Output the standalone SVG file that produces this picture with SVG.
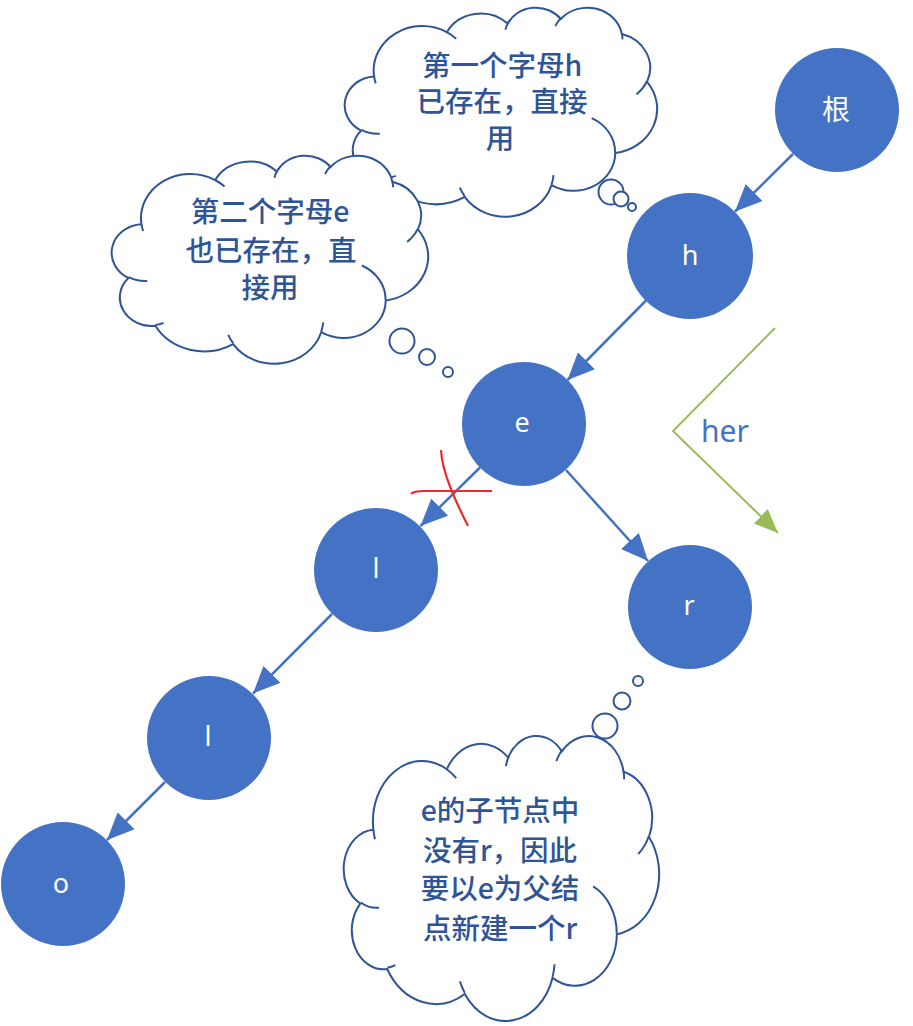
<svg xmlns="http://www.w3.org/2000/svg" width="913" height="1026" viewBox="0 0 913 1026">
<style>
.node{fill:#4472C4}
.lbl{fill:#FFFFFF;font-family:"Noto Sans","DejaVu Sans",sans-serif;font-size:27px;text-anchor:middle}
.lblcjk{fill:#FFFFFF;font-family:"Noto Sans CJK SC","Noto Sans",sans-serif;font-size:28px;text-anchor:middle}
.cloud{fill:#FFFFFF;stroke:#2F5597;stroke-width:2}
.crease{fill:none;stroke:#2F5597;stroke-width:2}
.bub{fill:#FFFFFF;stroke:#2F5597;stroke-width:2}
.ct{fill:#2F5597;font-family:"Noto Sans CJK SC","Noto Sans",sans-serif;font-size:28.5px;font-weight:500;text-anchor:middle}
.edge{stroke:#4472C4;stroke-width:2.5;fill:none;marker-end:url(#ah)}
</style>
<defs>
<marker id="ah" viewBox="0 0 27 24" refX="27" refY="12" markerWidth="27" markerHeight="24" markerUnits="userSpaceOnUse" orient="auto">
<path d="M0,0 L27,12 L0,24 z" fill="#4472C4"/>
</marker>
<marker id="ahg" viewBox="0 0 24 20" refX="24" refY="10" markerWidth="24" markerHeight="20" markerUnits="userSpaceOnUse" orient="auto">
<path d="M0,0 L24,10 L0,20 z" fill="#9BBB59"/>
</marker>
<g id="cloudshape">
<path class="cloud" vector-effect="non-scaling-stroke" d="M9.03,33.26 A15.63,21.27 0 0 1 32.42,12.04 A12.35,16.82 0 0 1 51.98,7.94 A10.10,13.76 0 0 1 69.06,5.74 A11.24,15.27 0 0 1 88.70,12.90 A12.35,16.84 0 0 1 96.80,35.78 A15.68,21.34 0 0 1 86.58,69.91 A13.39,18.21 0 0 1 66.10,85.21 A15.63,21.33 0 0 1 38.15,90.88 A17.87,24.41 0 0 1 13.43,82.10 A10.09,13.70 0 0 1 4.89,59.13 A10.06,13.76 0 0 1 9.03,33.26 Z"/>
<path class="crease" vector-effect="non-scaling-stroke" d="M10.86,60.59 A10.06,13.76 0 0 1 5.00,58.75 M16.04,80.78 A10.09,13.70 0 0 1 13.47,81.67 M38.14,90.49 A15.63,21.33 0 0 1 36.60,86.46 M66.73,80.44 A15.63,21.33 0 0 1 66.11,84.86 M79.00,53.13 A13.39,18.21 0 0 1 86.53,69.65 M96.75,35.54 A12.35,16.84 0 0 1 93.39,41.75 M88.71,12.56 A11.24,15.27 0 0 1 88.89,15.49 M67.31,9.15 A11.24,15.27 0 0 1 69.03,5.42 M51.25,10.93 A10.10,13.76 0 0 1 52.08,7.71 M32.41,12.02 A15.63,21.27 0 0 1 35.42,15.14 M9.55,36.55 A15.63,21.27 0 0 1 9.03,33.27"/>
</g>
</defs>

<g id="cloud1">
<use href="#cloudshape" transform="translate(346,7) scale(3.11,2.09)"/>
<circle class="bub" cx="611" cy="192" r="12.5"/>
<circle class="bub" cx="621" cy="199" r="7.5"/>
<circle class="bub" cx="632" cy="207" r="4"/>
<text class="ct" x="502" y="76">第一个字母h</text>
<text class="ct" x="502" y="112">已存在，直接</text>
<text class="ct" x="500" y="149">用</text>
</g>

<g id="cloud2">
<use href="#cloudshape" transform="translate(113,155) scale(3.15,2.08)"/>
<circle class="bub" cx="402" cy="341" r="12.5"/>
<circle class="bub" cx="427" cy="357" r="8"/>
<circle class="bub" cx="448" cy="372" r="5"/>
<text class="ct" x="270" y="222">第二个字母e</text>
<text class="ct" x="271" y="261">也已存在，直</text>
<text class="ct" x="270" y="298">接用</text>
</g>

<g id="cloud3">
<use href="#cloudshape" transform="translate(345,735) scale(3.14,2.85)"/>
<circle class="bub" cx="605" cy="726" r="12.5"/>
<circle class="bub" cx="622" cy="701" r="8.5"/>
<circle class="bub" cx="638" cy="681" r="5"/>
<text class="ct" x="500" y="821">e的子节点中</text>
<text class="ct" x="500" y="861">没有r，因此</text>
<text class="ct" x="500" y="899">要以e为父结</text>
<text class="ct" x="500" y="939">点新建一个r</text>
</g>

<g id="connectors">
<line class="edge" x1="793" y1="154" x2="735" y2="211.5"/>
<line class="edge" x1="646" y1="300.5" x2="567.5" y2="380"/>
<line class="edge" x1="480" y1="467.5" x2="420.5" y2="526"/>
<line class="edge" x1="566" y1="470" x2="648" y2="561"/>
<line class="edge" x1="332" y1="614" x2="253" y2="693.5"/>
<line class="edge" x1="165" y1="782" x2="107" y2="840"/>
</g>

<g id="node-root"><circle class="node" cx="837" cy="110" r="62"/><text class="lblcjk" x="836" y="120">根</text></g>
<g id="node-h"><circle class="node" cx="690" cy="256" r="63"/><text class="lbl" x="690" y="265">h</text></g>
<g id="node-e"><circle class="node" cx="524" cy="424" r="62"/><text class="lbl" x="522" y="432">e</text></g>
<g id="node-l1"><circle class="node" cx="376" cy="570" r="62"/><text class="lbl" x="376" y="578">l</text></g>
<g id="node-r"><circle class="node" cx="690" cy="607" r="62"/><text class="lbl" x="689" y="615">r</text></g>
<g id="node-l2"><circle class="node" cx="209" cy="738" r="62"/><text class="lbl" x="208" y="746">l</text></g>
<g id="node-o"><circle class="node" cx="63" cy="884" r="62"/><text class="lbl" x="61" y="893">o</text></g>

<g id="cross">
<path d="M441,450 C442,472 455,500 468,526" fill="none" stroke="#EE2A2A" stroke-width="2.2"/>
<path d="M411,494 Q414,491 424,491 L492,491" fill="none" stroke="#EE2A2A" stroke-width="2.2"/>
</g>

<g id="her-path">
<polyline points="775,328 673,431 778,533" fill="none" stroke="#9BBB59" stroke-width="2" marker-end="url(#ahg)"/>
<text x="701" y="442" fill="#4472C4" font-family="Noto Sans, DejaVu Sans, sans-serif" font-size="30">her</text>
</g>
</svg>
